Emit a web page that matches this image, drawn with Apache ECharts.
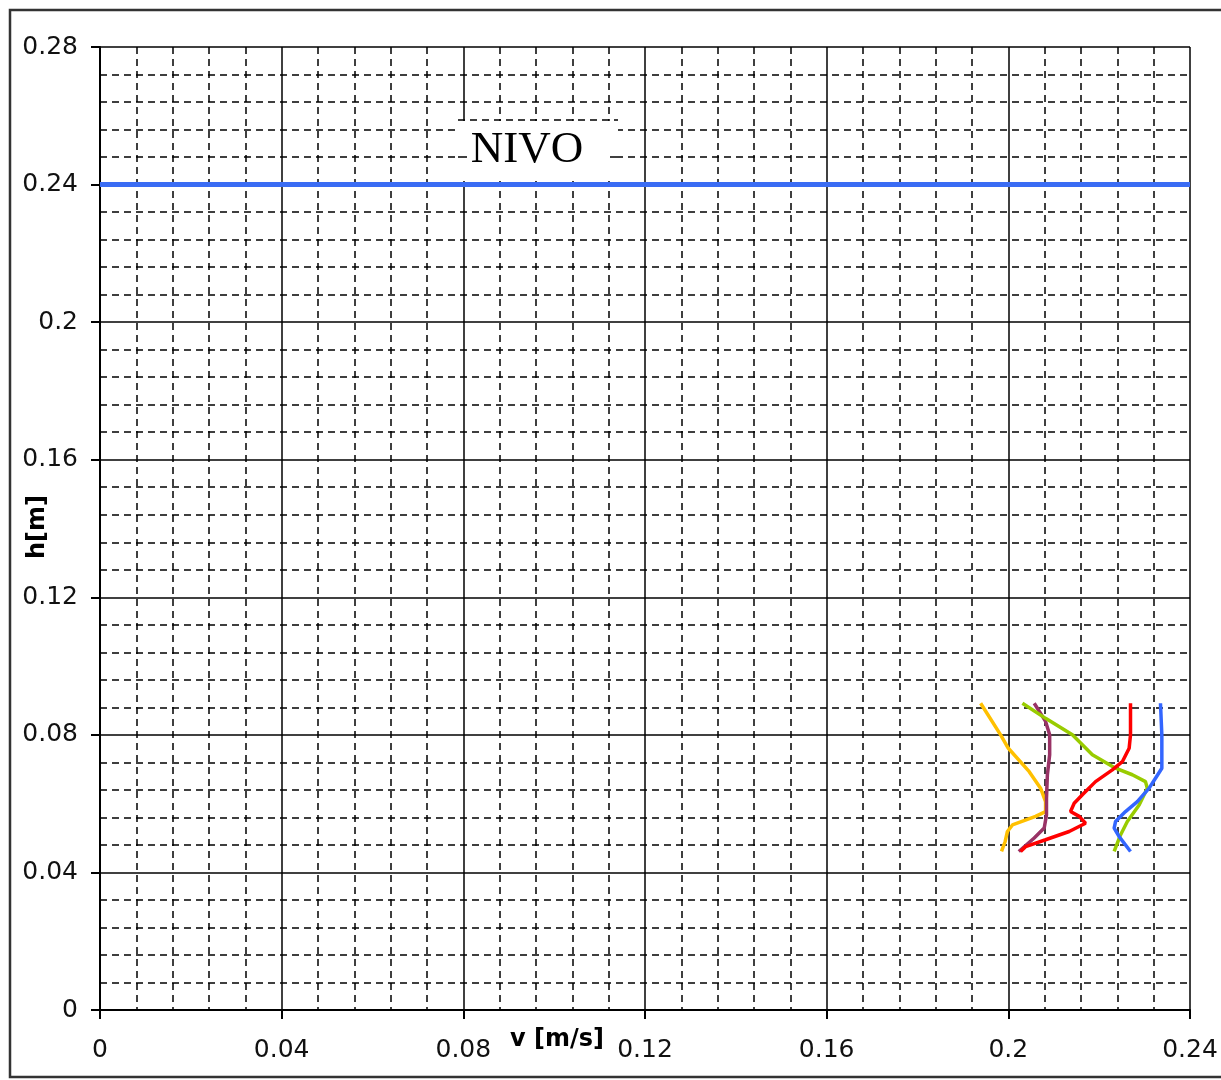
<!DOCTYPE html>
<html>
<head>
<meta charset="utf-8">
<script src="https://cdn.jsdelivr.net/npm/echarts@6/dist/echarts.min.js"></script>
<style>
html,body{margin:0;padding:0;background:#fff;}
#chart{width:1221px;height:1080px;}
</style>
</head>
<body>
<div id="chart"></div>
<script>
// Velocity profiles: [v (m/s), h (m)]
const yellowSeries = [[0.1939,0.0892],[0.1983,0.080],[0.2000,0.0761],[0.2046,0.0693],[0.2071,0.0645],[0.2082,0.0606],[0.2082,0.0577],[0.2060,0.0563],[0.2009,0.0538],[0.1998,0.0519],[0.1993,0.0490],[0.1985,0.0461]];
const purpleSeries = [[0.2057,0.0892],[0.2082,0.0839],[0.2091,0.080],[0.2091,0.0742],[0.2086,0.0684],[0.2084,0.0616],[0.2084,0.0567],[0.2079,0.0529],[0.2057,0.0500],[0.2023,0.0461]];
const greenSeries = [[0.2031,0.0892],[0.2082,0.0848],[0.2141,0.080],[0.2185,0.0742],[0.2236,0.0703],[0.2273,0.0684],[0.2302,0.0664],[0.2306,0.0645],[0.2288,0.0596],[0.2262,0.0548],[0.2247,0.0509],[0.2233,0.0461]];
const redSeries = [[0.2269,0.0892],[0.2269,0.080],[0.2266,0.0761],[0.2251,0.0722],[0.2229,0.0698],[0.2192,0.0664],[0.2163,0.0626],[0.2145,0.0601],[0.2137,0.0577],[0.2156,0.0563],[0.2170,0.0543],[0.2134,0.0519],[0.2082,0.0495],[0.2038,0.0475],[0.2027,0.0461]];
const blueSeries = [[0.2335,0.0892],[0.2338,0.080],[0.2338,0.0703],[0.2324,0.0674],[0.2310,0.0645],[0.2284,0.0606],[0.2258,0.0577],[0.2236,0.0548],[0.2233,0.0529],[0.2244,0.0504],[0.2269,0.0461]];
const nivoLine = [[0,0.24],[0.24,0.24]];
const nivoLabel = 'NIVO';
const xName = 'v [m/s]';
const yName = 'h[m]';

const chart = echarts.init(document.getElementById('chart'), null, {renderer:'canvas'});
const dash = [7,5];
const labelFont = {color:'#111', fontFamily:'"DejaVu Sans", Verdana, sans-serif', fontSize:25};
function axisCommon(){
  return {
    type:'value', min:0, interval:0.04,
    axisLine:{show:true, onZero:false, lineStyle:{color:'#000', width:2}},
    axisTick:{show:true, inside:false, length:9, lineStyle:{color:'#000', width:2}},
    minorTick:{show:false, splitNumber:5},
    splitLine:{show:true, lineStyle:{color:'#000', width:1.5}},
    minorSplitLine:{show:true, lineStyle:{color:'#000', width:1.5, type:dash}},
  };
}
const lineS = (data,color)=>({type:'line', data, showSymbol:false, symbol:'none', smooth:false,
  lineStyle:{color, width:3.5}, itemStyle:{color}, z:5, animation:false});

chart.setOption({
  animation:false,
  backgroundColor:'#fff',
  grid:{left:100, right:31, top:47, bottom:70, containLabel:false},
  xAxis:Object.assign(axisCommon(), {max:0.24,
    axisLabel:Object.assign({margin:28}, labelFont)}),
  yAxis:Object.assign(axisCommon(), {max:0.28,
    axisLabel:Object.assign({margin:22}, labelFont)}),
  graphic:[
    {type:'rect', shape:{x:10,y:10,width:1230,height:1067}, style:{fill:'none', stroke:'#333', lineWidth:2.5}, z:100},
    {type:'rect', shape:{x:456,y:121,width:162,height:60}, style:{fill:'#fff'}, z:50},
    {type:'line', shape:{x1:458,y1:120,x2:618,y2:120}, style:{stroke:'#000', lineWidth:1.5, lineDash:[7,5]}, z:51},
    {type:'line', shape:{x1:458,y1:157,x2:467,y2:157}, style:{stroke:'#000', lineWidth:1.5}, z:51},
    {type:'line', shape:{x1:610,y1:157,x2:618,y2:157}, style:{stroke:'#000', lineWidth:1.5}, z:51},
    {type:'text', x:527, y:150, style:{text:nivoLabel, fill:'#000', font:'45px "Liberation Serif", "Times New Roman", serif', textAlign:'center', textVerticalAlign:'middle'}, z:52},
    {type:'text', x:557, y:1040, style:{text:xName, fill:'#000', font:'bold 24px "DejaVu Sans", Verdana, sans-serif', textAlign:'center', textVerticalAlign:'middle'}, z:52},
    {type:'text', x:38, y:527, rotation:Math.PI/2, style:{text:yName, fill:'#000', font:'bold 24px "DejaVu Sans", Verdana, sans-serif', textAlign:'center', textVerticalAlign:'middle'}, z:52}
  ],
  series:[
    Object.assign(lineS(nivoLine,'#3A6CF4'), {lineStyle:{color:'#3A6CF4', width:5}, z:60}),
    lineS(yellowSeries,'#FFC000'),
    lineS(purpleSeries,'#993366'),
    lineS(greenSeries,'#99CC00'),
    lineS(redSeries,'#FF0000'),
    lineS(blueSeries,'#3366FF')
  ]
});
</script>
</body>
</html>
